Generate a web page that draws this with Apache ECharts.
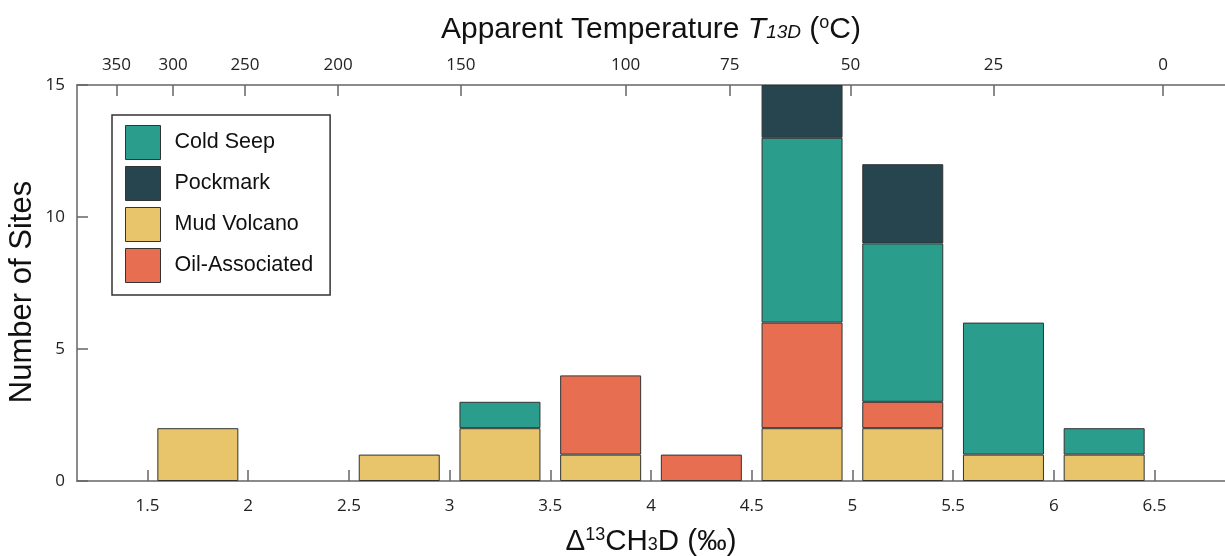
<!DOCTYPE html>
<html>
<head>
<meta charset="utf-8">
<title>Δ13CH3D histogram by site type</title>
<script src="https://cdn.jsdelivr.net/npm/echarts@6/dist/echarts.min.js"></script>
<style>
  html, body { margin: 0; padding: 0; background: #fff; }
  #chart { width: 1225px; height: 556px; }
</style>
</head>
<body>
<div id="chart"></div>
<script>
// Histogram bins of Δ13CH3D (‰), bin centres (bins are 0.5 ‰ wide)
const binCenters = [1.75, 2.75, 3.25, 3.75, 4.25, 4.75, 5.25, 5.75, 6.25];

// Number of sites per bin, by site type (null = none)
const mudVolcano    = [2, 1, 2, 1, null, 2, 2, 1, 1];
const oilAssociated = [null, null, null, 3, 1, 4, 1, null, null];
const coldSeep      = [null, null, 1, null, null, 7, 6, 5, 1];
const pockmark      = [null, null, null, null, null, 2, 3, null, null];

// Bottom axis ticks (Δ13CH3D, ‰)
const deltaTicks = [1.5, 2, 2.5, 3, 3.5, 4, 4.5, 5, 5.5, 6, 6.5];

// Top axis: apparent temperature labels and the Δ13CH3D value each sits at
const tempLabels = ['350', '300', '250', '200', '150', '100', '75', '50', '25', '0'];
const tempTickDelta = [1.346, 1.627, 1.984, 2.446, 3.056, 3.874, 4.391, 4.990, 5.700, 6.543];

const xMin = 1.15, xMax = 6.85;

const colors = {
  'Cold Seep': '#2a9d8c',
  'Pockmark': '#26454f',
  'Mud Volcano': '#e8c46a',
  'Oil-Associated': '#e86e51'
};

const axisColor = '#666';
const tickFont = { fontFamily: 'Open Sans', fontSize: 17, color: '#222' };
const titleFont = 'Liberation Sans';

// Rows are [count, delta]: the count comes first so that it is the stacked dimension.
function rows(values) {
  return binCenters.map((x, i) => [values[i], x]);
}

function barSeries(name, values) {
  return {
    name: name,
    type: 'bar',
    stack: 'sites',
    xAxisIndex: 0,
    yAxisIndex: 0,
    barWidth: 81,
    encode: { x: 1, y: 0 },
    itemStyle: { color: colors[name], borderColor: '#333', borderWidth: 1 },
    emphasis: { disabled: true },
    data: rows(values)
  };
}

const chart = echarts.init(document.getElementById('chart'), null, { renderer: 'canvas' });

chart.setOption({
  animation: false,
  backgroundColor: '#fff',
  grid: { left: 77, right: 0, top: 85, bottom: 75, containLabel: false, outerBoundsMode: 'none' },
  legend: {
    orient: 'vertical',
    left: 112,
    top: 115,
    data: ['Cold Seep', 'Pockmark', 'Mud Volcano', 'Oil-Associated'],
    icon: 'rect',
    itemWidth: 35,
    itemHeight: 34,
    itemGap: 6,
    padding: [10, 17, 12, 13],
    borderColor: '#333',
    borderWidth: 1.5,
    backgroundColor: '#fff',
    selectedMode: false,
    itemStyle: { borderColor: '#333', borderWidth: 1 },
    textStyle: { fontFamily: titleFont, fontSize: 21.5, color: '#111', padding: [0, 0, 0, 9] }
  },
  xAxis: [
    {
      type: 'value',
      position: 'bottom',
      min: xMin,
      max: xMax,
      splitLine: { show: false },
      axisLine: { show: true, lineStyle: { color: axisColor, width: 1.5 } },
      axisTick: { show: true, inside: true, length: 11, customValues: deltaTicks,
                  lineStyle: { color: axisColor, width: 1.5 } },
      axisLabel: { ...tickFont, margin: 17, customValues: deltaTicks,
                   formatter: v => String(+v.toFixed(2)) },
      name: '{n|Δ}{sup|13}{n|CH}{sub|3}{n|D (‰)}',
      nameLocation: 'middle',
      nameGap: 44,
      nameMoveOverlap: false,
      nameTextStyle: {
        rich: {
          n: { fontFamily: titleFont, fontSize: 29.5, color: '#111', lineHeight: 34 },
          sup: { fontFamily: titleFont, fontSize: 18, color: '#111', lineHeight: 34, padding: [0, 0, 13, 0] },
          sub: { fontFamily: titleFont, fontSize: 18, color: '#111', lineHeight: 34, padding: [0, 0, -6, 0] }
        }
      }
    },
    {
      type: 'value',
      position: 'top',
      min: xMin,
      max: xMax,
      splitLine: { show: false },
      axisLine: { show: true, lineStyle: { color: axisColor, width: 1.5 } },
      axisTick: { show: true, inside: true, length: 11, customValues: tempTickDelta,
                  lineStyle: { color: axisColor, width: 1.5 } },
      axisLabel: { ...tickFont, margin: 11, customValues: tempTickDelta,
                   formatter: v => {
                     const i = tempTickDelta.findIndex(d => Math.abs(d - v) < 1e-6);
                     return i >= 0 ? tempLabels[i] : '';
                   } },
      name: '{n|Apparent Temperature }{it|T}{isub|13D}{n| (}{sup|o}{n|C)}',
      nameLocation: 'middle',
      nameGap: 37,
      nameMoveOverlap: false,
      nameTextStyle: {
        rich: {
          n: { fontFamily: titleFont, fontSize: 30, color: '#111', lineHeight: 36 },
          it: { fontFamily: titleFont, fontSize: 30, fontStyle: 'italic', color: '#111', lineHeight: 36 },
          isub: { fontFamily: titleFont, fontSize: 19, fontStyle: 'italic', color: '#111', lineHeight: 36, padding: [0, 0, -5, 0] },
          sup: { fontFamily: titleFont, fontSize: 18, color: '#111', lineHeight: 36, padding: [0, 0, 13, 0] }
        }
      }
    }
  ],
  yAxis: {
    type: 'value',
    min: 0,
    max: 15,
    interval: 5,
    splitLine: { show: false },
    axisLine: { show: true, lineStyle: { color: axisColor, width: 1.5 } },
    axisTick: { show: true, inside: true, length: 11, lineStyle: { color: axisColor, width: 1.5 } },
    axisLabel: { ...tickFont, margin: 12 },
    name: 'Number of Sites',
    nameLocation: 'middle',
    nameGap: 39,
    nameMoveOverlap: false,
    nameTextStyle: { fontFamily: titleFont, fontSize: 31, color: '#111', padding: [0, 18, 0, 0] }
  },
  series: [
    barSeries('Mud Volcano', mudVolcano),
    barSeries('Oil-Associated', oilAssociated),
    barSeries('Cold Seep', coldSeep),
    barSeries('Pockmark', pockmark)
  ]
});
</script>
</body>
</html>
